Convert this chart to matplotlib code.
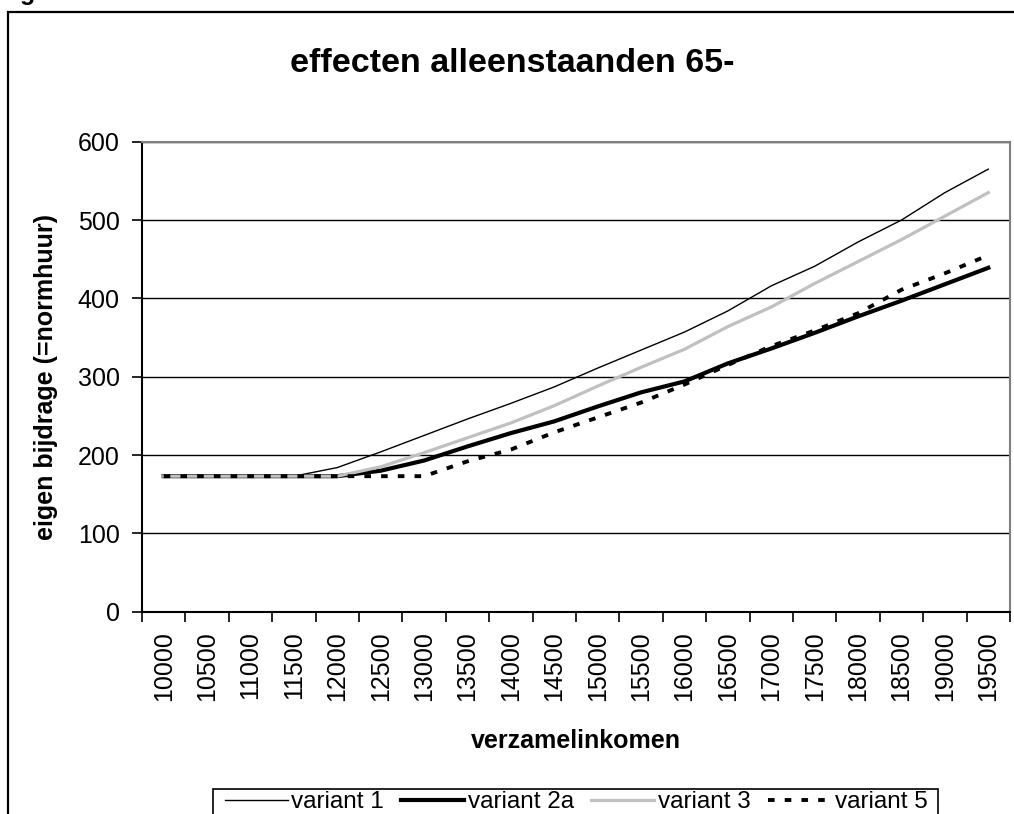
import matplotlib.pyplot as plt
import matplotlib.patches as mpatches
import numpy as np

plt.rcParams['font.family'] = ['Liberation Sans', 'DejaVu Sans']

# data
inkomen = ['10000', '10500', '11000', '11500', '12000', '12500', '13000', '13500', '14000', '14500',
           '15000', '15500', '16000', '16500', '17000', '17500', '18000', '18500', '19000', '19500']
variant_1 = [173, 173, 173, 173, 184, 204, 225, 246, 266, 287,
             311, 334, 357, 384, 416, 441, 472, 500, 535, 565]
variant_2a = [173, 173, 173, 173, 173, 180, 193, 211, 228, 243,
              262, 280, 294, 317, 336, 356, 377, 397, 418, 439]
variant_3 = [173, 173, 173, 173, 173, 185, 203, 222, 241, 263,
             288, 312, 335, 364, 389, 419, 447, 475, 505, 535]
variant_5 = [173, 173, 173, 173, 173, 173, 173, 192, 207, 229,
             248, 267, 290, 315, 339, 359, 381, 411, 432, 455]

W, H = 1014, 814
fig = plt.figure(figsize=(W / 100, H / 100), dpi=100)

# outer chart frame (right and bottom fall outside the picture)
fig.patches.append(mpatches.Rectangle((8 / W, -0.2), 1.2, 1.2 - 12 / H, transform=fig.transFigure,
                                      fill=False, edgecolor='black', linewidth=1.6))
# tiny piece of text above the chart
fig.text(20 / W, 1.0, 'g', fontsize=18, fontweight='bold', va='baseline', ha='left')

ax = fig.add_axes([142 / W, 1 - 611.7 / H, (1010 - 142) / W, (611.7 - 141.7) / H])

x = np.arange(len(inkomen))
ax.plot(x, variant_1, color='black', linewidth=1.0, label='variant 1')
ax.plot(x, variant_2a, color='black', linewidth=3.0, label='variant 2a')
ax.plot(x, variant_3, color='#c0c0c0', linewidth=2.3, label='variant 3')
ax.plot(x, variant_5, color='black', linewidth=2.8, dashes=(1.7, 2.6), label='variant 5')

ax.set_xlim(-0.5, len(inkomen) - 0.5)
ax.set_ylim(0, 600)
ax.set_yticks(range(0, 601, 100))
ax.yaxis.grid(True, color='black', linewidth=1.0)
ax.set_axisbelow(True)

ax.set_xticks(x)
ax.set_xticklabels(inkomen, rotation=90)
ax.set_xticks(np.arange(len(inkomen) + 1) - 0.5, minor=True)
ax.tick_params(axis='x', which='major', length=0, labelsize=18, pad=14)
ax.tick_params(axis='x', which='minor', length=7, width=1.2, direction='out')
ax.tick_params(axis='y', length=7, width=1.2, labelsize=18, pad=9)

for side in ['top', 'right']:
    ax.spines[side].set_color('#808080')
    ax.spines[side].set_linewidth(1.5)
for side in ['left', 'bottom']:
    ax.spines[side].set_linewidth(1.5)

ax.set_ylabel('eigen bijdrage (=normhuur)', fontsize=18, fontweight='bold', labelpad=14)
ax.set_xlabel('verzamelinkomen', fontsize=18, fontweight='bold', labelpad=20)

fig.text(512 / W, 1 - 63 / H, 'effecten alleenstaanden 65-', fontsize=24.5, fontweight='bold',
         ha='center', va='center')

# legend box runs past the bottom edge in the reference, so draw its frame separately
leg = fig.legend(loc='upper center', bbox_to_anchor=(576 / W, 1 - 791 / H), ncol=4,
                 fontsize=17.5, frameon=False,
                 handlelength=2.6, handletextpad=0.15, columnspacing=0.7, borderpad=0.0,
                 borderaxespad=0)
fig.patches.append(mpatches.Rectangle((213 / W, -0.1), (938 - 213) / W, 0.1 + 1 - 789 / H,
                                      transform=fig.transFigure, fill=False,
                                      edgecolor='black', linewidth=1.2))

fig.savefig('out.png', dpi=100)
